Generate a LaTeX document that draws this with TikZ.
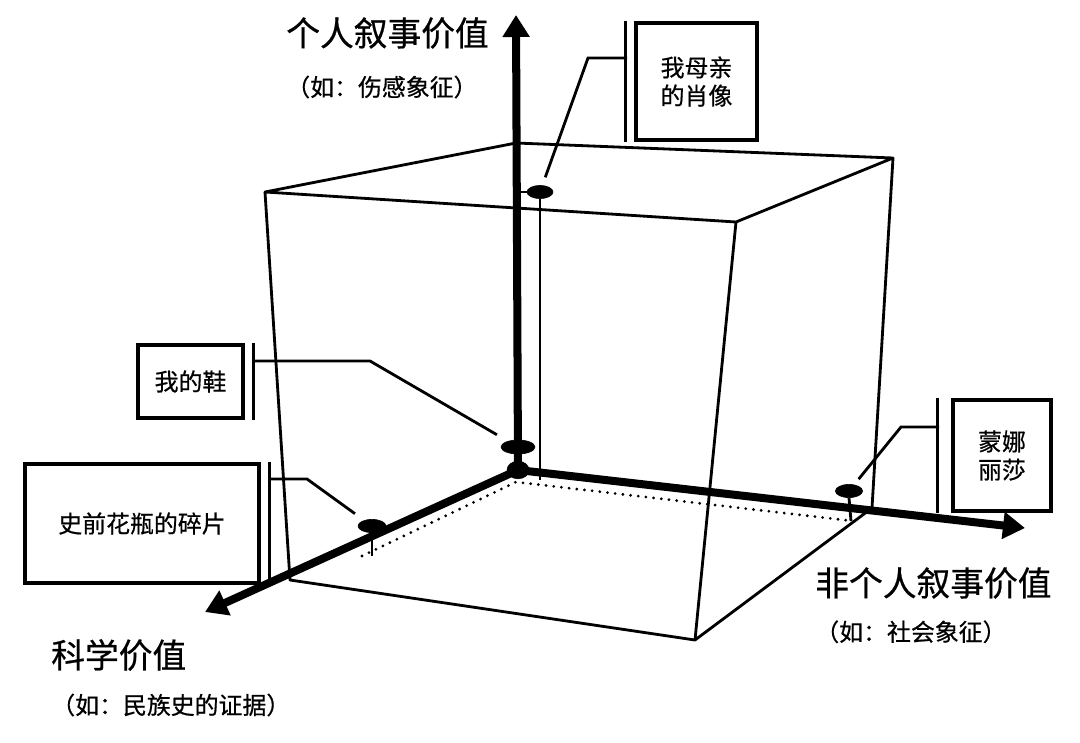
\documentclass[tikz,border=0pt]{standalone}
\usepackage{fontspec}
\setmainfont{Noto Sans CJK SC}[FakeBold=0.6]
\usetikzlibrary{arrows.meta,shapes.geometric,positioning}

\tikzset{
    edge/.style={line width=2pt, line join=round},
    axis/.style={line width=5.7pt, -{Triangle[length=0.55cm,width=0.65cm]}},
    floor/.style={line width=2.2pt, dash pattern=on 0pt off 5.5pt, line cap=round},
    dot/.style={draw, ellipse, fill=black, inner sep=0pt},
    callout/.style={draw, line width=2.3pt, align=center, inner sep=0pt, font=\fontsize{17}{20}\selectfont},
    bar/.style={line width=2.3pt},
    leader/.style={line width=2pt},
    title/.style={anchor=west, inner sep=0pt, font=\fontsize{24}{28}\selectfont},
    hint/.style={anchor=west, inner sep=0pt, font=\fontsize{17}{20}\selectfont}
}

\begin{document}
\begin{tikzpicture}[x=0.025cm, y=-0.025cm]
    \useasboundingbox (0,0) rectangle (1080,743);

    % Cube
    \coordinate (A) at (265,192);
    \coordinate (B) at (516,143);
    \coordinate (C) at (893,158);
    \coordinate (D) at (736,222);
    \coordinate (E) at (290,580);
    \coordinate (F) at (695,640);
    \coordinate (G) at (872,508);
    \draw[edge] (A) -- (B) -- (C) -- (D) -- cycle;
    \draw[edge] (A) -- (E) -- (F) -- (G) -- (C);
    \draw[edge] (D) -- (F);

    % Floor
    \coordinate (fo) at (516,482);
    \coordinate (fl) at (362,556);
    \coordinate (fr) at (853,521);
    \draw[floor] (fl) -- (fo) -- (fr);

    % Axes
    \coordinate (O) at (518,470);
    \coordinate (up) at (516,15);
    \coordinate (left) at (205,612);
    \coordinate (right) at (1025,528);
    \draw[axis] (O) -- (up);
    \draw[axis] (O) -- (left);
    \draw[axis] (O) -- (right);

    % Markers
    \node[dot, minimum width=0.55cm, minimum height=0.44cm] (orig) at (O) {};
    \node[dot, minimum width=0.85cm, minimum height=0.35cm] (shoe) at (518,447) {};
    \node[dot, minimum width=0.65cm, minimum height=0.33cm] (mom) at (540,192) {};
    \node[dot, minimum width=0.7cm, minimum height=0.33cm] (vase) at (372,526) {};
    \node[dot, minimum width=0.68cm, minimum height=0.33cm] (mona) at (849,491) {};
    \coordinate (momfoot) at (540,480);
    \coordinate (vasefoot) at (372,556);
    \coordinate (monafoot) at (851,521);
    \draw[leader] (mom.west) -- (mom.west -| O);
    \draw[leader] (mom.south) -- (momfoot);
    \draw[leader] (vase.south) -- (vasefoot);
    \draw[leader] (mona.south) -- (monafoot);

    % Callouts
    \node[callout, minimum width=3.02cm, minimum height=2.92cm] (momtxt) at (696.5,81.5) {我母亲\\的肖像};
    \node[callout, minimum width=2.62cm, minimum height=1.82cm] (shoetxt) at (190.5,381.5) {我的鞋};
    \node[callout, minimum width=5.85cm, minimum height=2.97cm] (vasetxt) at (142,523.5) {史前花瓶的碎片};
    \node[callout, minimum width=2.45cm, minimum height=2.77cm] (monatxt) at (1002,455.5) {蒙娜\\丽莎};
    \draw[bar] ([xshift=-0.23cm]momtxt.north west) -- ([xshift=-0.23cm]momtxt.south west);
    \draw[bar] ([xshift=0.23cm]shoetxt.north east) -- ([xshift=0.23cm]shoetxt.south east);
    \draw[bar] ([xshift=0.23cm]vasetxt.north east) -- ([xshift=0.23cm]vasetxt.south east);
    \draw[bar] ([xshift=-0.35cm]monatxt.north west) -- ([xshift=-0.35cm]monatxt.south west);

    % Leaders
    \coordinate (mombar) at (627,58);
    \coordinate (momknee) at (588,58);
    \coordinate (shoebar) at (252,361);
    \coordinate (shoeknee) at (370,361);
    \coordinate (vasebar) at (268,479);
    \coordinate (vaseknee) at (307,479);
    \coordinate (monabar) at (939,427);
    \coordinate (monaknee) at (901,427);
    \draw[leader, shorten >=6pt] (mombar) -- (momknee) -- (mom);
    \draw[leader, shorten >=9pt] (shoebar) -- (shoeknee) -- (shoe);
    \draw[leader, shorten >=8pt] (vasebar) -- (vaseknee) -- (vase);
    \draw[leader, shorten >=5pt] (monabar) -- (monaknee) -- (mona);

    % Labels
    \node[title] (ytitle) at (286,33) {个人叙事价值};
    \node[hint] (yhint) at ([yshift=-1.35cm]ytitle.west) {（如：伤感象征）};
    \node[title] (rtitle) at (815,583) {非个人叙事价值};
    \node[hint] (rhint) at ([yshift=-1.22cm]rtitle.west) {（如：社会象征）};
    \node[title] (ltitle) at (51,655) {科学价值};
    \node[hint] (lhint) at ([yshift=-1.25cm]ltitle.west) {（如：民族史的证据）};
\end{tikzpicture}
\end{document}
